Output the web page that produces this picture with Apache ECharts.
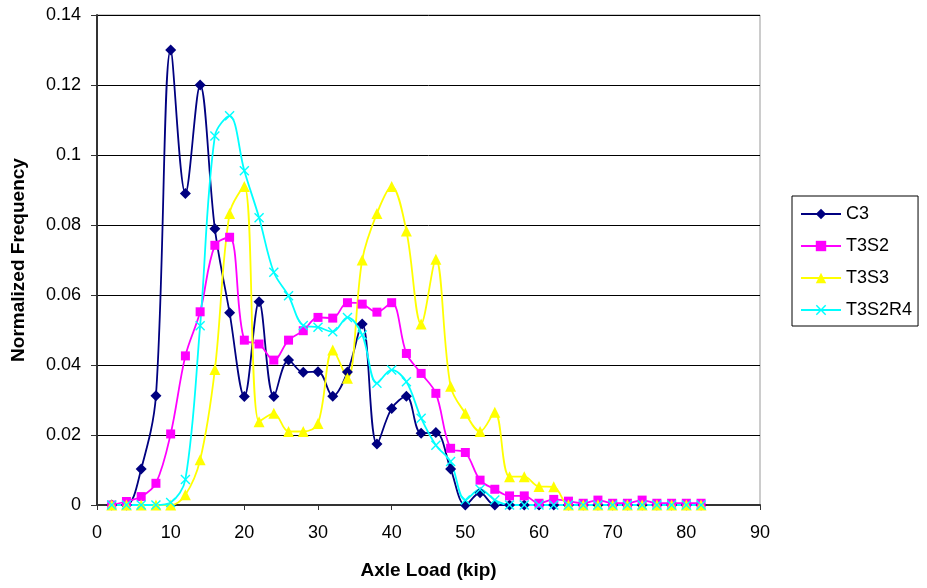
<!DOCTYPE html>
<html>
<head>
<meta charset="utf-8">
<script src="https://cdn.jsdelivr.net/npm/echarts@6/dist/echarts.min.js"></script>
<style>
    html, body { margin: 0; padding: 0; background: #fff; }
    #chart { width: 927px; height: 588px; }
</style>
</head>
<body>
<div id="chart"></div>
<script>
// axle load (kip)
var axleLoad = [2, 4, 6, 8, 10, 12, 14, 16, 18, 20, 22, 24, 26, 28, 30, 32, 34, 36, 38, 40,
    42, 44, 46, 48, 50, 52, 54, 56, 58, 60, 62, 64, 66, 68, 70, 72, 74, 76, 78, 80, 82];

var c3 = [0, 0, 0.0103, 0.0312, 0.130, 0.089, 0.120, 0.0789, 0.0549, 0.031, 0.0581, 0.031, 0.0414, 0.0379, 0.0381, 0.0311, 0.038, 0.0517, 0.0174, 0.0276,
    0.0311, 0.0205, 0.0207, 0.0103, 0, 0.0035, 0, 0, 0, 0, 0, 0, 0, 0, 0, 0, 0, 0, 0, 0, 0];
var t3s2 = [0, 0.001, 0.0024, 0.0062, 0.0203, 0.0426, 0.0552, 0.0742, 0.0765, 0.0471, 0.046, 0.0414, 0.0471, 0.0498, 0.0536, 0.0534, 0.0578, 0.0574, 0.0551, 0.0578,
    0.0433, 0.0376, 0.0319, 0.0162, 0.015, 0.0071, 0.0045, 0.0026, 0.0026, 0.0005, 0.0016, 0.0011, 0.0005, 0.0014, 0.0005, 0.0005, 0.0014, 0.0005, 0.0005, 0.0005, 0.0005];
var t3s3 = [0, 0, 0, 0, 0, 0.0029, 0.0129, 0.0387, 0.0833, 0.091, 0.0238, 0.0262, 0.021, 0.021, 0.0233, 0.0443, 0.0362, 0.070, 0.0833, 0.091,
    0.0783, 0.0517, 0.0702, 0.0339, 0.0262, 0.021, 0.0265, 0.0081, 0.0081, 0.0053, 0.0052, 0, 0, 0, 0, 0, 0, 0, 0, 0, 0];
var t3s2r4 = [0, 0, 0, 0, 0.0007, 0.0073, 0.0512, 0.1054, 0.1112, 0.0955, 0.0821, 0.0665, 0.0598, 0.0513, 0.0508, 0.0495, 0.0536, 0.0486, 0.0348, 0.0386,
    0.0352, 0.0248, 0.0171, 0.0124, 0.0014, 0.0045, 0.0014, 0, 0, 0, 0, 0, 0, 0, 0, 0, 0, 0, 0, 0, 0];

var xTicks = [0, 10, 20, 30, 40, 50, 60, 70, 80, 90];
var yTicks = [0, 0.02, 0.04, 0.06, 0.08, 0.1, 0.12, 0.14];

var crossPath = 'path://M0,1L1,0L5,4L9,0L10,1L6,5L10,9L9,10L5,6L1,10L0,9L4,5Z';
var fontFamily = 'Liberation Sans, Arial, sans-serif';

function pairs(ys) {
    return axleLoad.map(function (x, i) { return [x, ys[i]]; });
}

function makeSeries(name, ys, color, symbol, size) {
    return {
        name: name,
        type: 'line',
        smooth: 0.35,
        data: pairs(ys),
        symbol: symbol,
        symbolSize: size,
        showAllSymbol: true,
        lineStyle: { color: color, width: 1.8 },
        itemStyle: { color: color },
        emphasis: { disabled: true }
    };
}

var chart = echarts.init(document.getElementById('chart'), null, { renderer: 'canvas' });

var option = {
    animation: false,
    textStyle: { fontFamily: fontFamily },
    grid: { left: 97, right: 167, top: 15, bottom: 83, containLabel: false, show: true, borderColor: '#999', borderWidth: 1 },
    legend: {
        orient: 'vertical',
        left: 792,
        top: 196,
        padding: [9, 6, 7, 8],
        itemGap: 14,
        itemWidth: 40,
        itemHeight: 13,
        borderColor: '#000',
        borderWidth: 1,
        textStyle: { fontSize: 18, color: '#000', fontFamily: fontFamily },
        data: ['C3', 'T3S2', 'T3S3', 'T3S2R4']
    },
    xAxis: {
        type: 'value',
        min: xTicks[0],
        max: xTicks[xTicks.length - 1],
        interval: 10,
        name: 'Axle Load (kip)',
        nameLocation: 'middle',
        nameGap: 56,
        nameTextStyle: { fontSize: 19, fontWeight: 'bold', color: '#000' },
        axisLine: { lineStyle: { color: '#333', width: 2 } },
        axisTick: { show: true, length: 5, lineStyle: { color: '#333' } },
        axisLabel: { fontSize: 18, color: '#000', margin: 19 },
        splitLine: { show: false }
    },
    yAxis: {
        type: 'value',
        min: yTicks[0],
        max: yTicks[yTicks.length - 1],
        interval: 0.02,
        name: 'Normalized Frequency',
        nameLocation: 'middle',
        nameGap: 69,
        nameTextStyle: { fontSize: 19, fontWeight: 'bold', color: '#000' },
        axisLine: { show: true, lineStyle: { color: '#333', width: 2 } },
        axisTick: { show: true, length: 6, lineStyle: { color: '#333' } },
        axisLabel: { fontSize: 18, color: '#000', margin: 16 },
        splitLine: { show: true, lineStyle: { color: '#000', width: 1 } }
    },
    series: [
        makeSeries('C3', c3, '#000080', 'diamond', 11),
        makeSeries('T3S2', t3s2, '#ff00ff', 'rect', 9),
        makeSeries('T3S3', t3s3, '#ffff00', 'triangle', 11),
        makeSeries('T3S2R4', t3s2r4, '#00ffff', crossPath, 10)
    ]
};

chart.setOption(option);
</script>
</body>
</html>
